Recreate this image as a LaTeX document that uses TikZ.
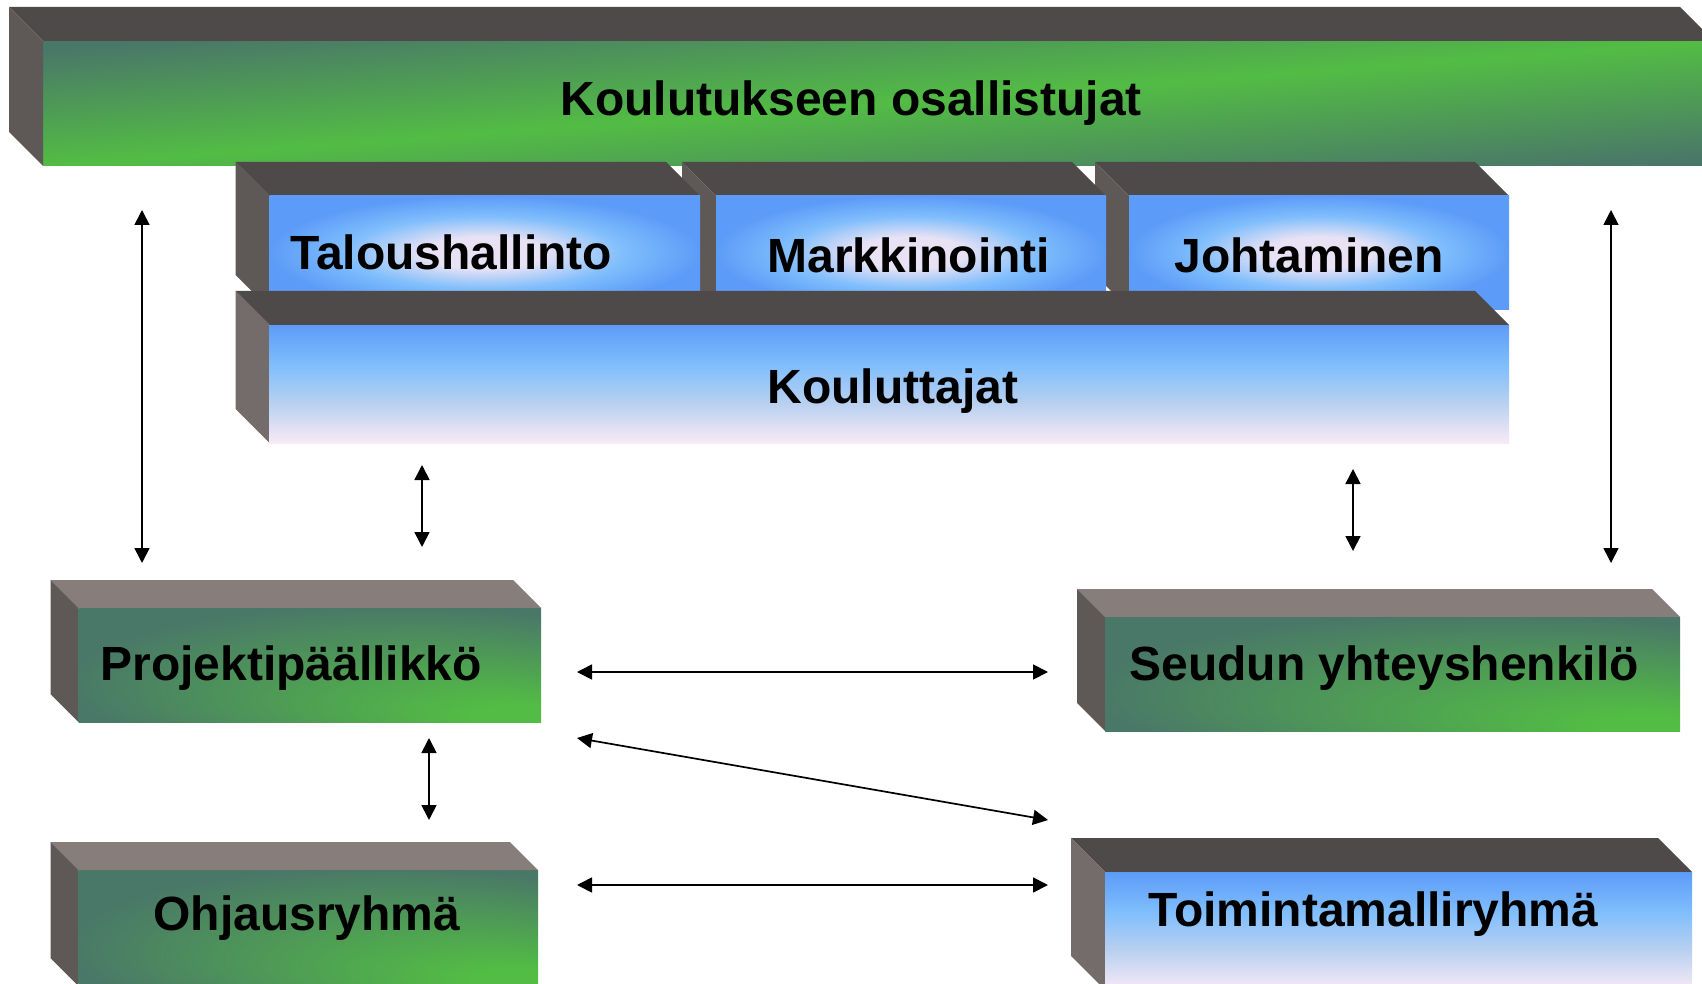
\documentclass[tikz,border=0pt]{standalone}
\usepackage{fontspec}
\setmainfont{Liberation Sans}
\usetikzlibrary{arrows.meta}
\definecolor{cteal}{RGB}{74,120,104}
\definecolor{cgrn}{RGB}{82,188,68}
\definecolor{cbedge}{RGB}{92,156,248}
\definecolor{cbmid}{RGB}{128,190,252}
\definecolor{clmid}{RGB}{184,208,240}
\definecolor{clav}{RGB}{232,226,244}
\definecolor{cpink}{RGB}{248,234,246}
\definecolor{ctopd}{RGB}{79,74,74}
\definecolor{ctopg}{RGB}{135,125,123}
\definecolor{csided}{RGB}{94,88,86}
\definecolor{csidel}{RGB}{116,108,106}
% shadings: the shaded path's box maps to the central 25bp..75bp square
\pgfdeclareverticalshading{kosv}{100bp}{color(0bp)=(cteal); color(27bp)=(cteal); color(50bp)=(cgrn); color(73bp)=(cteal); color(100bp)=(cteal)}
\pgfdeclareradialshading{bcenter}{\pgfpointorigin}{color(0bp)=(clav); color(7bp)=(clav); color(16bp)=(cbmid); color(25bp)=(cbedge); color(50bp)=(cbedge)}
\pgfdeclareverticalshading{bvert}{100bp}{color(0bp)=(cpink); color(25bp)=(cpink); color(42bp)=(clmid); color(58bp)=(cbmid); color(75bp)=(cbedge); color(100bp)=(cbedge)}
\pgfdeclareradialshading{gcorner}{\pgfpoint{25bp}{-25bp}}{color(0bp)=(cgrn); color(5bp)=(cgrn); color(34bp)=(cteal); color(50bp)=(cteal)}
\newcommand{\slab}[9]{%
  \fill[#7] (#2-#6,#3-#6) -- (#4-#6,#3-#6) -- (#4,#3) -- (#2,#3) -- cycle;
  \fill[#8] (#2-#6,#3-#6) -- (#2,#3) -- (#2,#5) -- (#2-#6,#5-#6) -- cycle;
  \pgfmathsetmacro\slabw{(#4-#2)*0.5}%
  \pgfmathsetmacro\slabh{(#5-#3)*0.5}%
  \node[face, #9, minimum width=\slabw pt, minimum height=\slabh pt] (#1) at (#2,#3) {};
}
\tikzset{
  face/.style={anchor=north west, inner sep=0pt, outer sep=0pt, draw=none},
  lbl/.style={font=\fontsize{24}{28}\selectfont\bfseries, inner sep=0pt, anchor=base west, text=black},
  >={Triangle[length=7.5pt,width=7.5pt]},
  arr/.style={<->, line width=0.85pt, black}
}
\begin{document}
\begin{tikzpicture}[x=0.5pt, y=-0.5pt]
\useasboundingbox (0,0) rectangle (1702,984);
\fill[white] (0,0) rectangle (1702,984);
\clip (0,0) rectangle (1702,984);
% top bar: diagonal gradient (teal corners, green along the anti-diagonal)
\begin{scope}
  \clip (43,41) rectangle (1714,166);
  \shade[shading=kosv, transform canvas={rotate around={4.278:(878.5,103.5)}}] (28.5,-21.2) rectangle (1728.5,228.2);
\end{scope}
\slab{kos}{43}{41}{1714}{166}{34}{ctopd}{csided}{fill=none}
% middle boxes
\slab{joh}{1129}{196}{1509}{309}{34}{ctopd}{csided}{shade, shading=bcenter}
\slab{mar}{716}{196}{1106}{309}{34}{ctopd}{csided}{shade, shading=bcenter}
\slab{tal}{269.5}{196}{700}{309}{34}{ctopd}{csided}{shade, shading=bcenter}
\slab{kou}{269.5}{325}{1509}{443}{34}{ctopd}{csidel}{shade, shading=bvert}
% lower boxes
\slab{pro}{78.5}{608}{541}{722}{28}{ctopg}{csided}{shade, shading=gcorner}
\slab{ohj}{78.5}{870}{538}{986}{28}{ctopg}{csided}{shade, shading=gcorner}
\slab{seu}{1105}{617}{1680}{731}{28}{ctopg}{csided}{shade, shading=gcorner}
\slab{toi}{1105}{872}{1692}{990}{34}{ctopd}{csidel}{shade, shading=bvert}
% texts
\node[lbl] (kos-t) at (560,116) {Koulutukseen osallistujat};
\node[lbl] (tal-t) at (290,270) {Taloushallinto};
\node[lbl] (mar-t) at (767,272) {Markkinointi};
\node[lbl] (joh-t) at (1174,272) {Johtaminen};
\node[lbl] (kou-t) at (767,403) {Kouluttajat};
\node[lbl] (pro-t) at (100,680) {Projektipäällikkö};
\node[lbl] (ohj-t) at (153,930) {Ohjausryhmä};
\node[lbl] (seu-t) at (1129,680) {Seudun yhteyshenkilö};
\node[lbl] (toi-t) at (1148,926) {Toimintamalliryhmä};
% connectors
\draw[arr] ([shift={(99,44)}]kos.south west) -- ([shift={(63.5,-45)}]pro.north west);
\draw[arr] ([shift={(152.5,22)}]kou.south west) -- ([shift={(343.5,-61)}]pro.north west);
\draw[arr] ([shift={(1083.5,26)}]kou.south west) -- ([shift={(248,-66)}]seu.north west);
\draw[arr] ([shift={(1568,44)}]kos.south west) -- ([shift={(-69,-54)}]seu.north east);
\draw[arr] ([shift={(36,64)}]pro.north east) -- ([shift={(-57,55)}]seu.north west);
\draw[arr] ([shift={(36,16)}]pro.south east) -- ([shift={(-57,-52)}]toi.north west);
\draw[arr] ([shift={(39,15)}]ohj.north east) -- ([shift={(-57,13)}]toi.north west);
\draw[arr] ([shift={(350.5,16)}]pro.south west) -- ([shift={(350.5,-50)}]ohj.north west);
\end{tikzpicture}
\end{document}
